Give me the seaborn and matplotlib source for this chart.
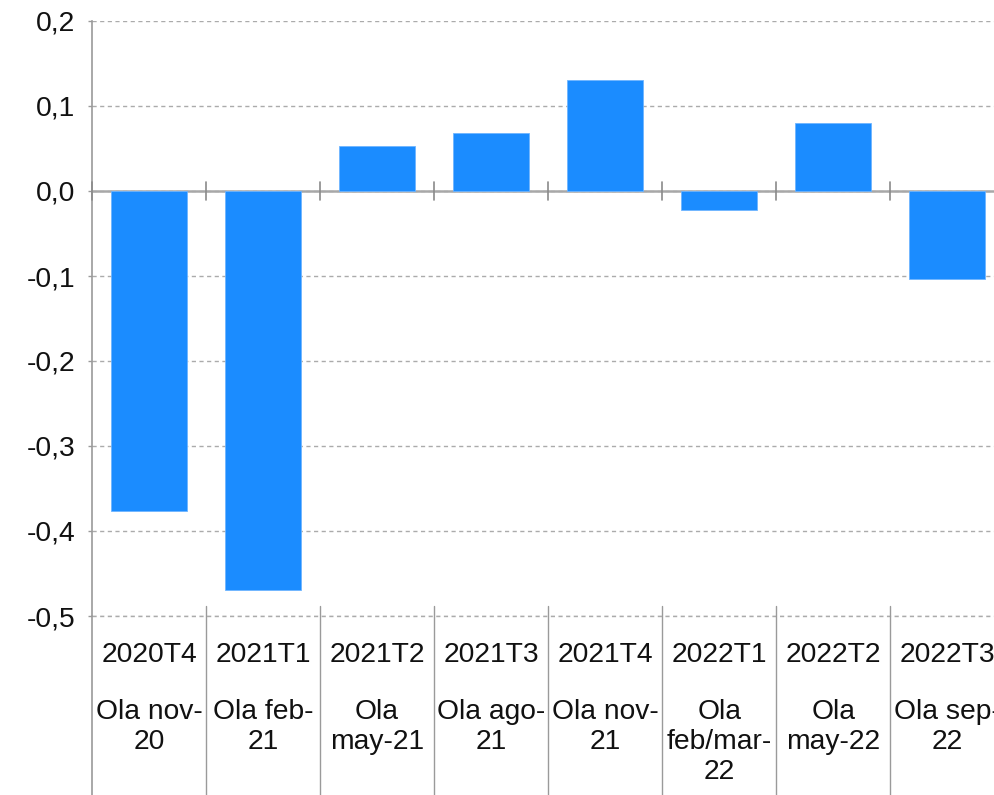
import matplotlib
matplotlib.use("Agg")
import matplotlib.pyplot as plt
import matplotlib.transforms as mtransforms
from matplotlib.ticker import FuncFormatter, MultipleLocator
import seaborn as sns

# Quarterly change by COVID wave
quarters = ["2020T4", "2021T1", "2021T2", "2021T3", "2021T4", "2022T1", "2022T2", "2022T3"]
waves = ["Ola nov-\n20", "Ola feb-\n21", "Ola\nmay-21", "Ola ago-\n21",
         "Ola nov-\n21", "Ola\nfeb/mar-\n22", "Ola\nmay-22", "Ola sep-\n22"]
values = [-0.376, -0.469, 0.053, 0.068, 0.131, -0.022, 0.080, -0.104]

sns.set_theme(style="white")
plt.rcParams["font.family"] = ["Liberation Sans", "DejaVu Sans"]

BAR = "#1b8cff"
GRID = "#ababab"
SEP = "#9a9a9a"
FS = 20.3

fig = plt.figure(figsize=(9.94, 7.95), dpi=100)
ax = fig.add_axes([92 / 994, 179 / 795, 902 / 994, 595 / 795])

sns.barplot(x=quarters, y=values, color=BAR, saturation=1, width=0.67,
            edgecolor="#6fb5ff", linewidth=0.6, ax=ax, zorder=3)

ax.set_ylim(-0.5, 0.2)
ax.set_xlim(-0.5, 7.41)
ax.yaxis.set_major_locator(MultipleLocator(0.1))
ax.yaxis.set_major_formatter(FuncFormatter(
    lambda v, _: f"{v:.1f}".replace(".", ",").replace("-0,0", "0,0")))
ax.tick_params(axis="y", labelsize=FS, length=3, width=1, color=SEP, pad=9,
               left=True, labelcolor="#111111")
ax.set_xticks(range(len(quarters)))
ax.set_xticklabels([])
ax.tick_params(axis="x", length=0)
ax.set_xlabel("")
ax.set_ylabel("")

dash = (0, (3, 2.5))
ax.yaxis.grid(True, linestyle=dash, color=GRID, lw=1, zorder=0)
ax.xaxis.grid(False)
ax.axhline(-0.5, linestyle=dash, color=GRID, lw=1, zorder=0, clip_on=False)
for s in ("top", "right", "bottom"):
    ax.spines[s].set_visible(False)
ax.spines["left"].set_color(SEP)
ax.spines["left"].set_linewidth(1.2)

# Category axis at zero with boundary ticks
ax.axhline(0, color="#a8a8a8", lw=1.8, zorder=2)
for b in [i - 0.5 for i in range(len(quarters))]:
    ax.plot([b, b], [-0.0105, 0.0105], color="#8a8a8a", lw=1.2,
            zorder=4, clip_on=False)

# Category separators below the plot, and the left axis line extended
blend = mtransforms.blended_transform_factory(ax.transData, ax.transAxes)
ax.plot([-0.5, -0.5], [0, -0.31], transform=blend, color=SEP, lw=1.2, clip_on=False)
for b in [i + 0.5 for i in range(len(quarters) - 1)]:
    ax.plot([b, b], [0.017, -0.31], transform=blend, color=SEP, lw=1.0, clip_on=False)

# Two-level category labels
for i, (q, w) in enumerate(zip(quarters, waves)):
    ax.text(i, -0.066, q, transform=blend, ha="center", va="center",
            fontsize=FS, color="#111111")
    ax.text(i, -0.139, w, transform=blend, ha="center", va="top",
            fontsize=FS, color="#111111", linespacing=1.2, multialignment="center")

fig.savefig("out.png", dpi=100)
